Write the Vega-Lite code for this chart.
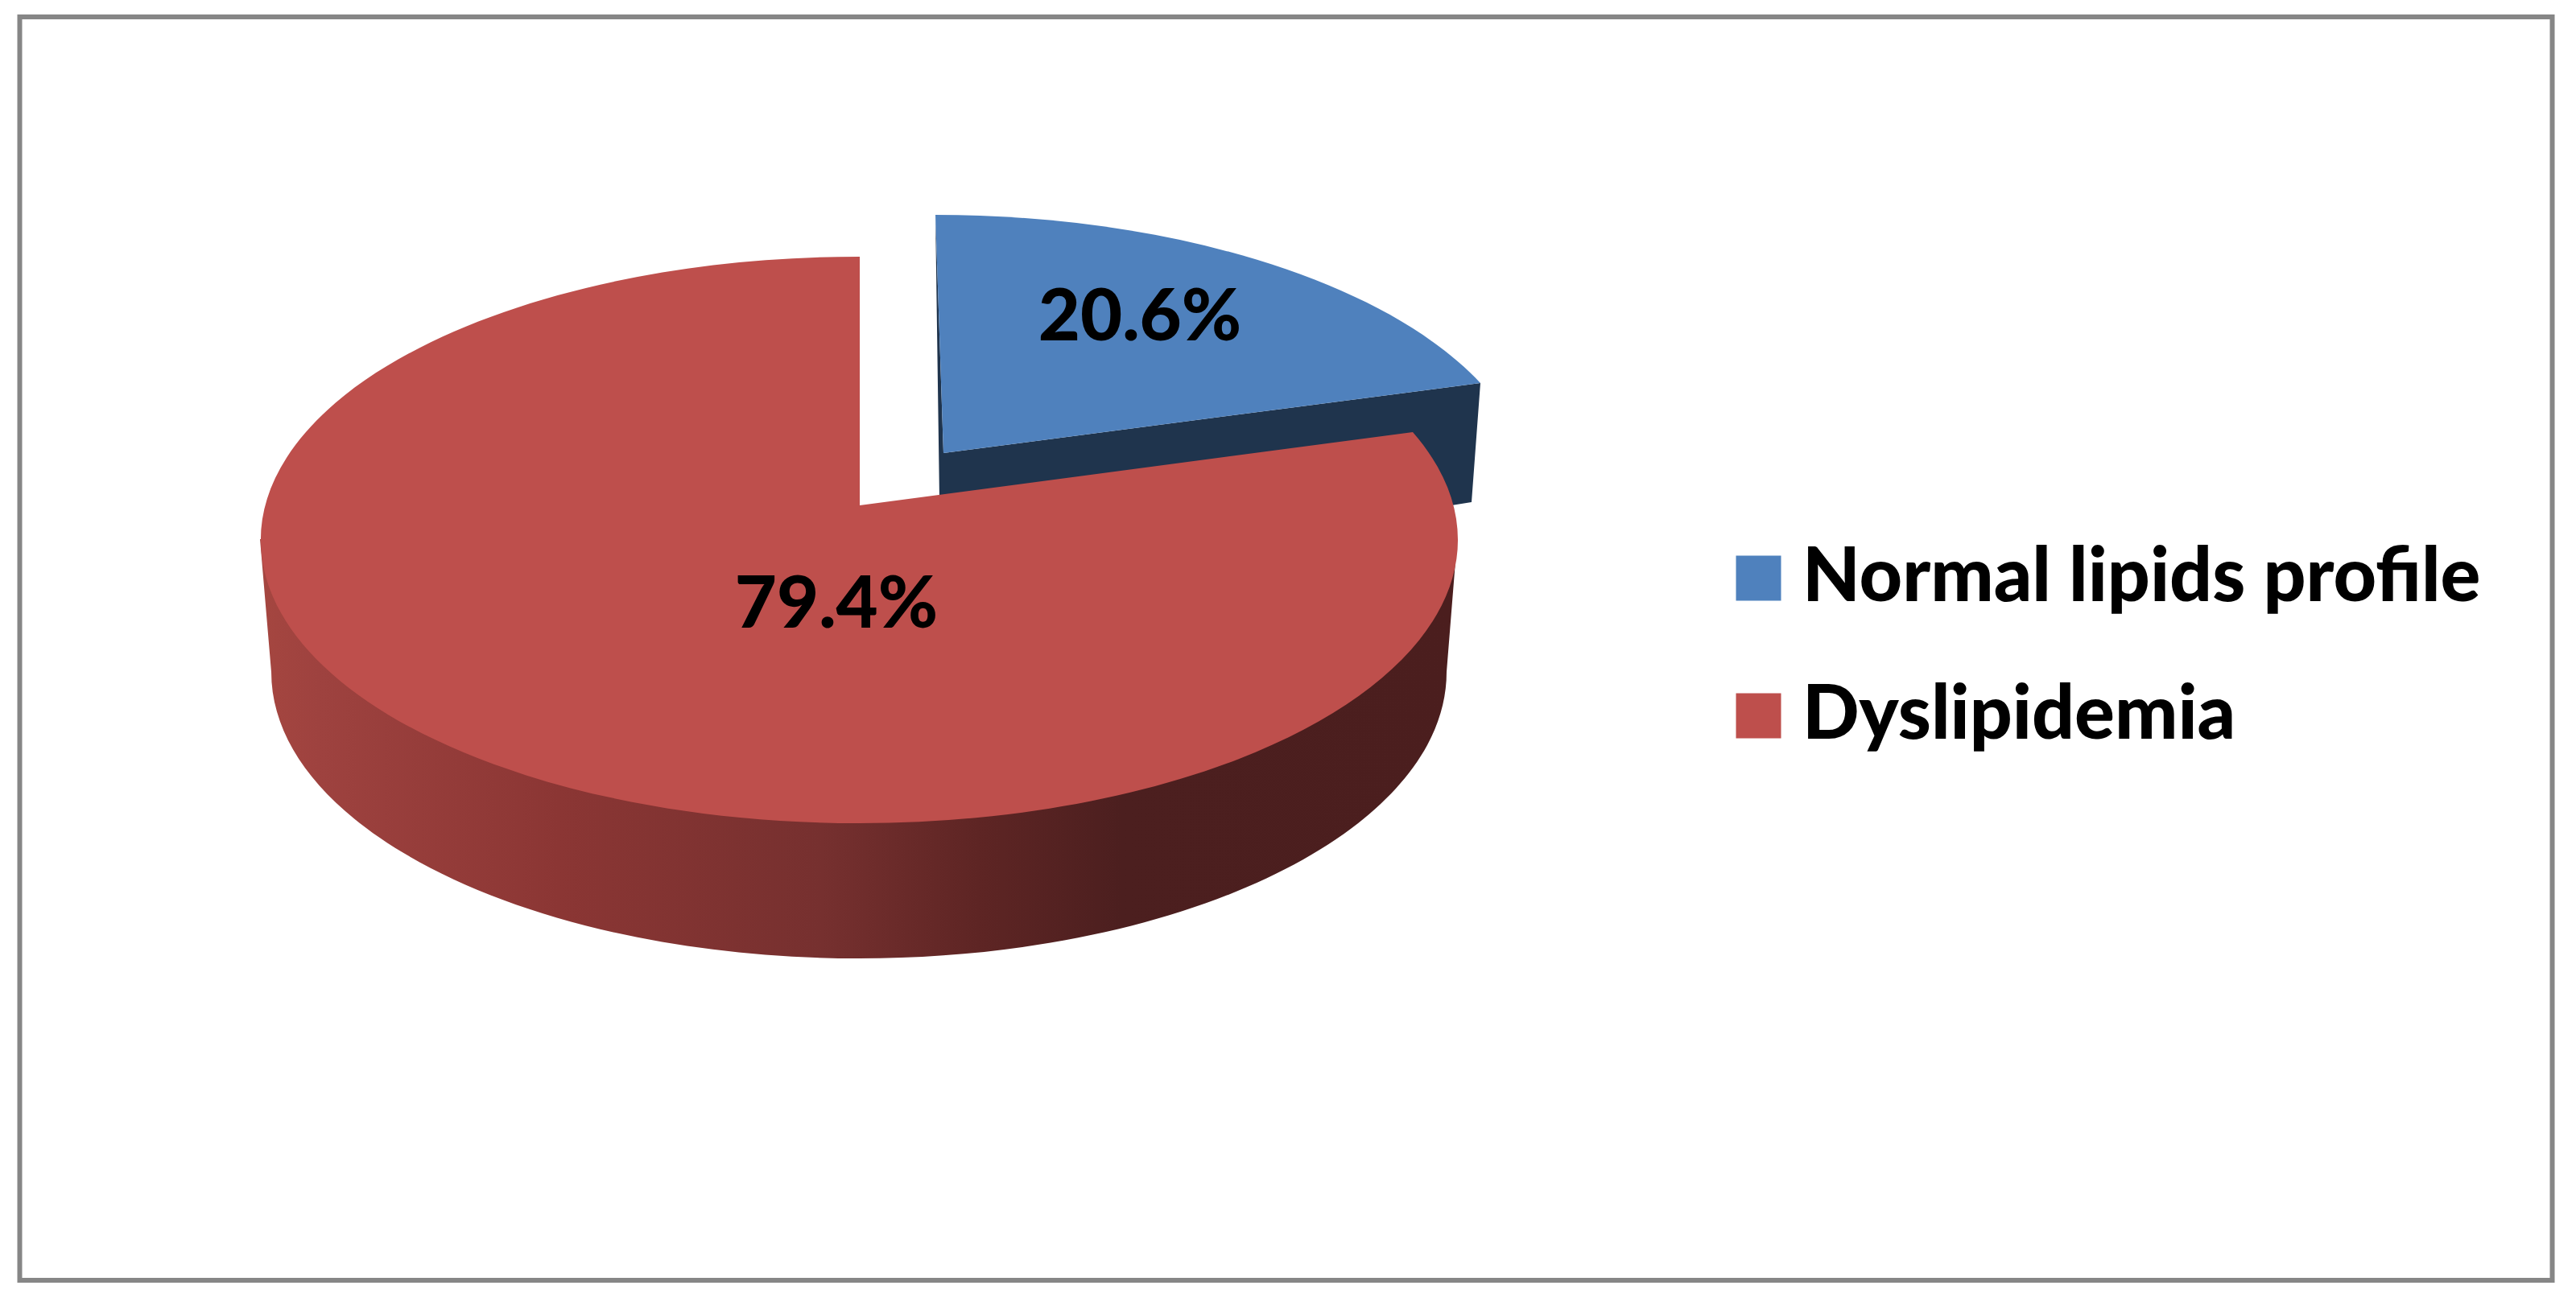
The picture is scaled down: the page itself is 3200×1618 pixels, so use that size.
{
  "$schema": "https://vega.github.io/schema/vega-lite/v6.json",
  "width": 3146,
  "height": 1570,
  "autosize": {"type": "none"},
  "padding": {"left": 24.5, "top": 21, "right": 29.5, "bottom": 27},
  "background": "#ffffff",
  "view": {"stroke": "#868686", "strokeWidth": 6, "fill": "#ffffff"},
  "data": {"values": [
    {"category": "Normal lipids profile", "share": 0.206},
    {"category": "Dyslipidemia", "share": 0.794}
  ]},
  "layer": [
    {
      "transform": [{"filter": "datum.category === 'Normal lipids profile'"}],
      "mark": {"type": "point", "filled": true, "opacity": 1, "size": 4, "strokeWidth": 0, "fill": "#1F344D",
        "shape": "M-435.5,-539 L-430.5,-186 L-97.5,-156 L205.5,-178 L230.5,-182 L241.5,-330 L-425.5,-243 Z"},
      "encoding": {}
    },
    {
      "transform": [{"filter": "datum.category === 'Normal lipids profile'"}],
      "mark": {"type": "point", "filled": true, "opacity": 1, "size": 4, "strokeWidth": 0,
        "shape": "M-435.5,-539 A743,352 0 0 1 241.5,-330 L-425.5,-243 Z"},
      "encoding": {
        "fill": {"field": "category", "type": "nominal",
          "scale": {"domain": ["Normal lipids profile", "Dyslipidemia"], "range": ["#4F81BD", "#BE4F4C"]},
          "legend": {"title": null, "orient": "none", "legendX": 2113.5, "legendY": 651, "padding": 0,
            "symbolType": "square", "symbolSize": 3136, "symbolStrokeWidth": 0, "symbolOpacity": 1,
            "labelFont": "Lato", "labelFontWeight": 900, "labelFontSize": 93, "labelColor": "#000000",
            "labelOffset": 8, "rowPadding": 77, "labelLimit": 1000}}
      }
    },
    {
      "transform": [{"filter": "datum.category === 'Dyslipidemia'"}],
      "mark": {"type": "point", "filled": true, "opacity": 1, "size": 4, "strokeWidth": 0,
        "fill": {"gradient": "linear", "x1": 0, "x2": 1, "y1": 0, "y2": 0, "stops": [
          {"offset": 0, "color": "#A54640"},
          {"offset": 0.05, "color": "#9E423F"},
          {"offset": 0.25, "color": "#8B3634"},
          {"offset": 0.47, "color": "#76302F"},
          {"offset": 0.6, "color": "#5E2524"},
          {"offset": 0.72, "color": "#4C1F1F"},
          {"offset": 1, "color": "#4B1E1E"}
        ]},
        "shape": "M-1274.5,-136 L-1260.5,29 A730,356 0 0 0 199.5,29 L212.5,-133 Z"},
      "encoding": {}
    },
    {
      "transform": [{"filter": "datum.category === 'Dyslipidemia'"}],
      "mark": {"type": "point", "filled": true, "opacity": 1, "size": 4, "strokeWidth": 0,
        "shape": "M-529.5,-487 A743.5,352 0 1 0 157.5,-269 L-529.5,-178 Z"},
      "encoding": {
        "fill": {"field": "category", "type": "nominal",
          "scale": {"domain": ["Normal lipids profile", "Dyslipidemia"], "range": ["#4F81BD", "#BE4F4C"]}}
      }
    },
    {
      "mark": {"type": "text", "font": "Lato", "fontWeight": 900, "fontSize": 90, "color": "#000000", "align": "center", "baseline": "middle"},
      "encoding": {
        "text": {"field": "share", "type": "quantitative", "format": ".1%"},
        "x": {"field": "category", "type": "nominal", "axis": null,
          "scale": {"type": "point", "padding": 0, "domain": ["Normal lipids profile", "Dyslipidemia"], "range": [1391.5, 1014.5]}},
        "y": {"field": "category", "type": "nominal", "axis": null,
          "scale": {"type": "point", "padding": 0, "domain": ["Normal lipids profile", "Dyslipidemia"], "range": [375, 732]}}
      }
    }
  ]
}
